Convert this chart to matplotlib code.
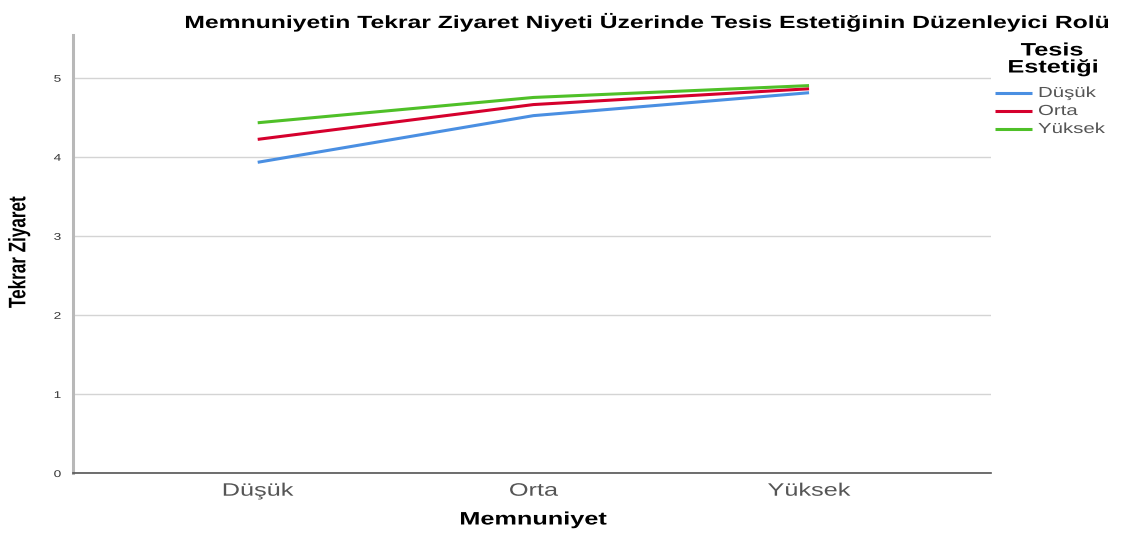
import matplotlib
matplotlib.use("Agg")
import matplotlib.pyplot as plt
from matplotlib.lines import Line2D
from matplotlib.patheffects import AbstractPathEffect
from matplotlib.transforms import Affine2D

categories = ["Düşük", "Orta", "Yüksek"]
series_names = ["Düşük", "Orta", "Yüksek"]
low_vals = [3.93, 4.52, 4.81]
mid_vals = [4.22, 4.66, 4.86]
high_vals = [4.43, 4.75, 4.90]
yticks = [0, 1, 2, 3, 4, 5]
colors = ["#4a8fe2", "#d5002d", "#4fc028"]

plt.rcParams['font.family'] = ['Liberation Sans', 'DejaVu Sans']

SX = 1.4


class StretchX(AbstractPathEffect):
    """Stretch glyphs horizontally about the text's anchor (text stays a Text artist)."""
    def __init__(self, text, sx=SX):
        super().__init__()
        self.text = text
        self.sx = sx

    def draw_path(self, renderer, gc, tpath, affine, rgbFace=None):
        bb = self.text.get_window_extent(renderer)
        ha = self.text.get_horizontalalignment()
        if ha == 'left':
            cx = bb.x0
        elif ha == 'right':
            cx = bb.x1
        else:
            cx = 0.5 * (bb.x0 + bb.x1)
        tr = affine + Affine2D().translate(-cx, 0).scale(self.sx, 1).translate(cx, 0)
        renderer.draw_path(gc, tpath, tr, rgbFace)


def stretch(t, sx=SX):
    t.set_path_effects([StretchX(t, sx)])
    return t


W, H = 1130, 536
fig = plt.figure(figsize=(W / 100, H / 100), dpi=100)
ax = fig.add_axes([73 / W, 63 / H, (991 - 73) / W, (473 - 35) / H])

x = list(range(len(categories)))
for vals, c in zip([low_vals, mid_vals, high_vals], colors):
    ax.plot(x, vals, color=c, lw=2.2, solid_capstyle='butt')

ax.set_xlim(-0.67, 2.66)
ax.set_ylim(0, 5.54)
ax.set_yticks(yticks)
ax.set_yticklabels([str(t) for t in yticks], fontsize=7, color='#333333')
ax.set_xticks(x)
ax.set_xticklabels(categories, fontsize=13, color='#555555')
ax.tick_params(axis='y', length=0, pad=8.5)
ax.tick_params(axis='x', length=0, pad=7)
ax.yaxis.grid(True, color='#d4d4d4', lw=1)
ax.set_axisbelow(True)
for s in ['top', 'right']:
    ax.spines[s].set_visible(False)
ax.spines['left'].set_color('#b8b8b8')
ax.spines['left'].set_linewidth(2.2)
ax.spines['bottom'].set_color('#555555')
ax.spines['bottom'].set_linewidth(1.2)
for t in ax.get_xticklabels() + ax.get_yticklabels():
    stretch(t)

stretch(fig.text(533 / W, 1 - 520 / H, "Memnuniyet", fontsize=13,
                 fontweight='bold', ha='center', va='center'))
stretch(fig.text(19 / W, 1 - 252 / H, "Tekrar Ziyaret", rotation=90, fontsize=12.3,
                 fontweight='bold', ha='center', va='center'))
stretch(fig.text(648 / W, 1 - 22 / H,
                 "Memnuniyetin Tekrar Ziyaret Niyeti Üzerinde Tesis Estetiğinin Düzenleyici Rolü",
                 fontsize=12.7, fontweight='bold', ha='center', va='center'))

# legend
stretch(fig.text(1052 / W, 1 - 51 / H, "Tesis", fontsize=13, fontweight='bold',
                 ha='center', va='center'))
stretch(fig.text(1053 / W, 1 - 68 / H, "Estetiği", fontsize=13, fontweight='bold',
                 ha='center', va='center'))
leg_y = [93, 111, 129]
for yy, c, name in zip(leg_y, colors, series_names):
    fig.add_artist(Line2D([995 / W, 1032 / W], [1 - yy / H, 1 - yy / H],
                          transform=fig.transFigure, color=c, lw=2.2,
                          solid_capstyle='butt'))
    stretch(fig.text(1038 / W, 1 - yy / H, name, fontsize=10.5, color='#555555',
                     ha='left', va='center'))

fig.savefig("out.png", dpi=100)
